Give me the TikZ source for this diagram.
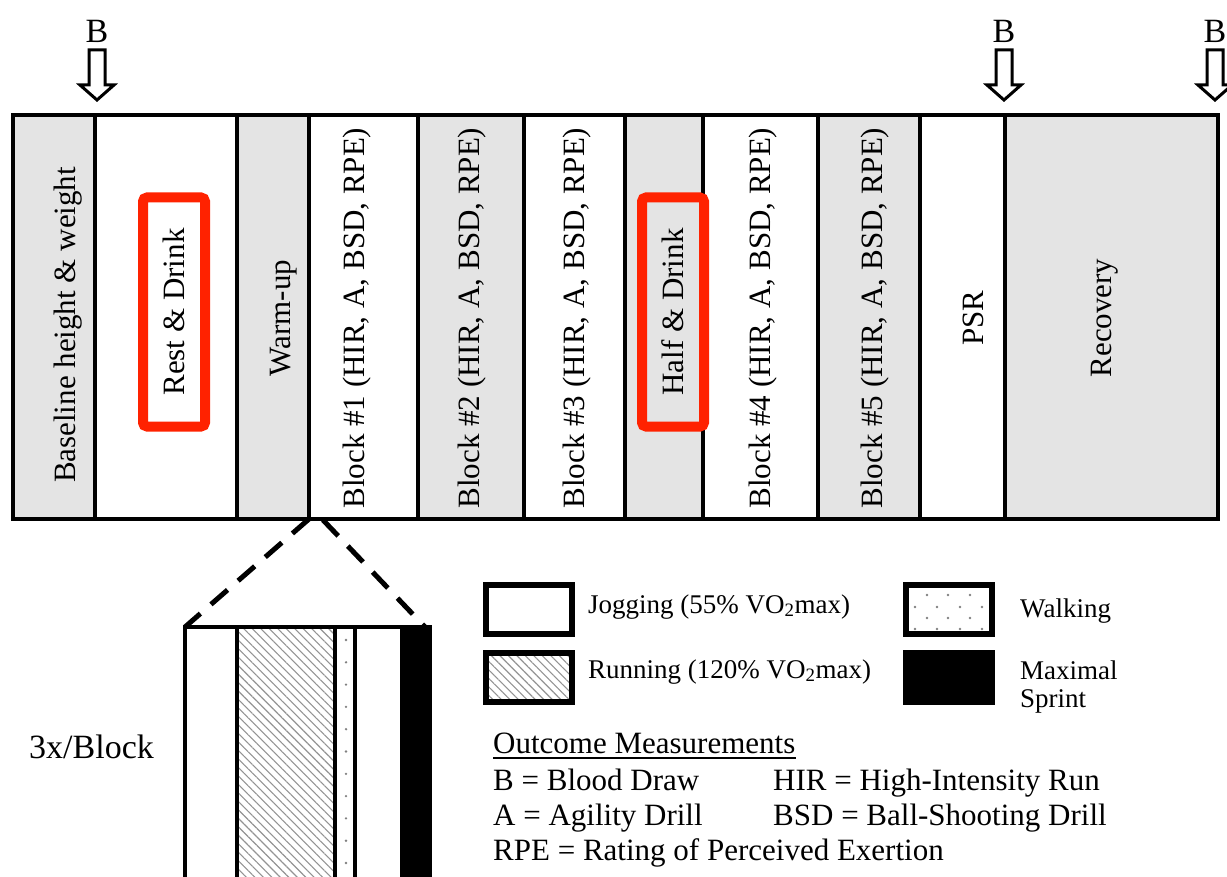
\documentclass[tikz,border=0pt]{standalone}
\usepackage{fontspec}
\setmainfont{Liberation Serif}
\usetikzlibrary{patterns.meta}
\definecolor{stripgray}{HTML}{E4E4E4}
\definecolor{hlred}{HTML}{FF2200}

\begin{document}
\begin{tikzpicture}[x=1pt, y=-1pt,
  col/.style={draw, line width=3.5pt, anchor=west, minimum height=404, inner sep=0pt, outer sep=0pt},
  vlab/.style={rotate=90, font=\fontsize{31}{36}\selectfont, inner sep=0pt},
  hl/.style={vlab, draw=hlred, line width=10pt, rounded corners=4pt, minimum width=229, minimum height=62},
  seg/.style={draw, line width=3.5pt, anchor=west, minimum height=273, inner sep=0pt, outer sep=0pt},
  hatch/.style={pattern={Lines[angle=-45, distance=6pt, line width=1.1pt]}, pattern color=gray!85},
  leg/.style={draw, line width=5.5pt, minimum width=86, minimum height=49, inner sep=0pt},
  legtext/.style={font=\fontsize{27}{27}\selectfont, anchor=base west, inner sep=0pt},
  keytext/.style={font=\fontsize{31}{35}\selectfont, anchor=base west, inner sep=0pt},
  bmark/.style={font=\fontsize{34}{38}\selectfont, anchor=base, inner sep=0pt},
  hollow/.style={draw, line width=3pt, fill=white, line join=miter},
  zoomline/.style={line width=5pt, dash pattern=on 22pt off 14pt},
  dotc/.style={fill=gray}]

\useasboundingbox (0,0) rectangle (1227,877);

% phases of the protocol
\foreach \n/\l/\r/\f in {base/13/95/stripgray, rest/95/237/white, warm/237/309/stripgray,
    bone/309/418/white, btwo/418/524/stripgray, bthree/524/625/white, half/625/703/stripgray,
    bfour/703/818/white, bfive/818/920/stripgray, psr/920/1005/white, reco/1005/1218/stripgray}
  \node[col, fill=\f, minimum width=\r-\l] (\n) at (\l,317) {};

\foreach \n/\x/\y/\t in {base/68/325/{Baseline height \& weight}, warm/284/318/Warm-up,
    bone/357/318/{Block \#1 (HIR, A, BSD, RPE)}, btwo/472/318/{Block \#2 (HIR, A, BSD, RPE)},
    bthree/577/318/{Block \#3 (HIR, A, BSD, RPE)}, bfour/763/318/{Block \#4 (HIR, A, BSD, RPE)},
    bfive/875/318/{Block \#5 (HIR, A, BSD, RPE)}, psr/973/318/PSR, reco/1105/318/Recovery}
  \node[vlab] (t\n) at (\x,\y) {\t};

\node[hl] (trest) at (174,312) {Rest \& Drink};
\node[hl] (thalf) at (673,312) {Half \& Drink};

% blood draws
\foreach \bx in {97,1004,1215} {
  \node[bmark] (b\bx) at (\bx,43) {B};
  \draw[hollow] (\bx-8,50) -- (\bx+8,50) -- (\bx+8,85) -- (\bx+17,85) -- (\bx,100)
    -- (\bx-17,85) -- (\bx-8,85) -- cycle;
}

% one block in detail
\foreach \n/\l/\r/\f in {jogone/185/237/white, walk/335/355/white, jogtwo/355/402/white, sprint/402/430/black}
  \node[seg, fill=\f, minimum width=\r-\l] (\n) at (\l,763.5) {};
\node[seg, hatch, minimum width=98] (run) at (237,763.5) {};
\foreach \i in {0,...,10}
  \fill[dotc] (346,640+22.3*\i) circle (1.3);

\coordinate (zr) at (323,520);
\coordinate (zl) at (425,627);
\draw[zoomline] (bone.south west) -- (jogone.north west);
\draw[zoomline] (zr) -- (zl);

\node[font=\fontsize{34}{40}\selectfont, anchor=base west, inner sep=0pt] (rep) at (29,758) {3x/Block};

% legend
\node[leg] (ljog) at (529,609.5) {};
\node[leg, hatch] (lrun) at (529,677.5) {};
\node[leg] (lwalk) at (949,609.5) {};
\node[leg, fill=black] (lsprint) at (949,677.5) {};
\foreach \dx in {927,948,970} \foreach \dy in {595,618}
  \fill[dotc] (\dx,\dy) circle (1.3);
\foreach \dx in {915,937,960,982} \foreach \dy in {607,629}
  \fill[dotc] (\dx,\dy) circle (1.3);

\node[legtext] (tjog) at (588,613) {Jogging (55\% VO\textsubscript{2}max)};
\node[legtext] (trun) at (588,678) {Running (120\% VO\textsubscript{2}max)};
\node[legtext] (twalk) at (1020,617) {Walking};
\node[legtext, anchor=north west, align=left] (tsprint) at (1020,661) {Maximal\\[1pt]Sprint};

% outcome measurements
\node[keytext] (om) at (493,753) {Outcome Measurements};
\draw[line width=2.5pt] ([yshift=-5pt]om.base west) -- ([yshift=-5pt]om.base east);
\foreach \n/\x/\y/\t in {kb/493/790/{B = Blood Draw}, khir/773/790/{HIR = High-Intensity Run},
    ka/493/825/{A = Agility Drill}, kbsd/773/825/{BSD = Ball-Shooting Drill},
    krpe/493/860/{RPE = Rating of Perceived Exertion}}
  \node[keytext] (\n) at (\x,\y) {\t};
\end{tikzpicture}
\end{document}
